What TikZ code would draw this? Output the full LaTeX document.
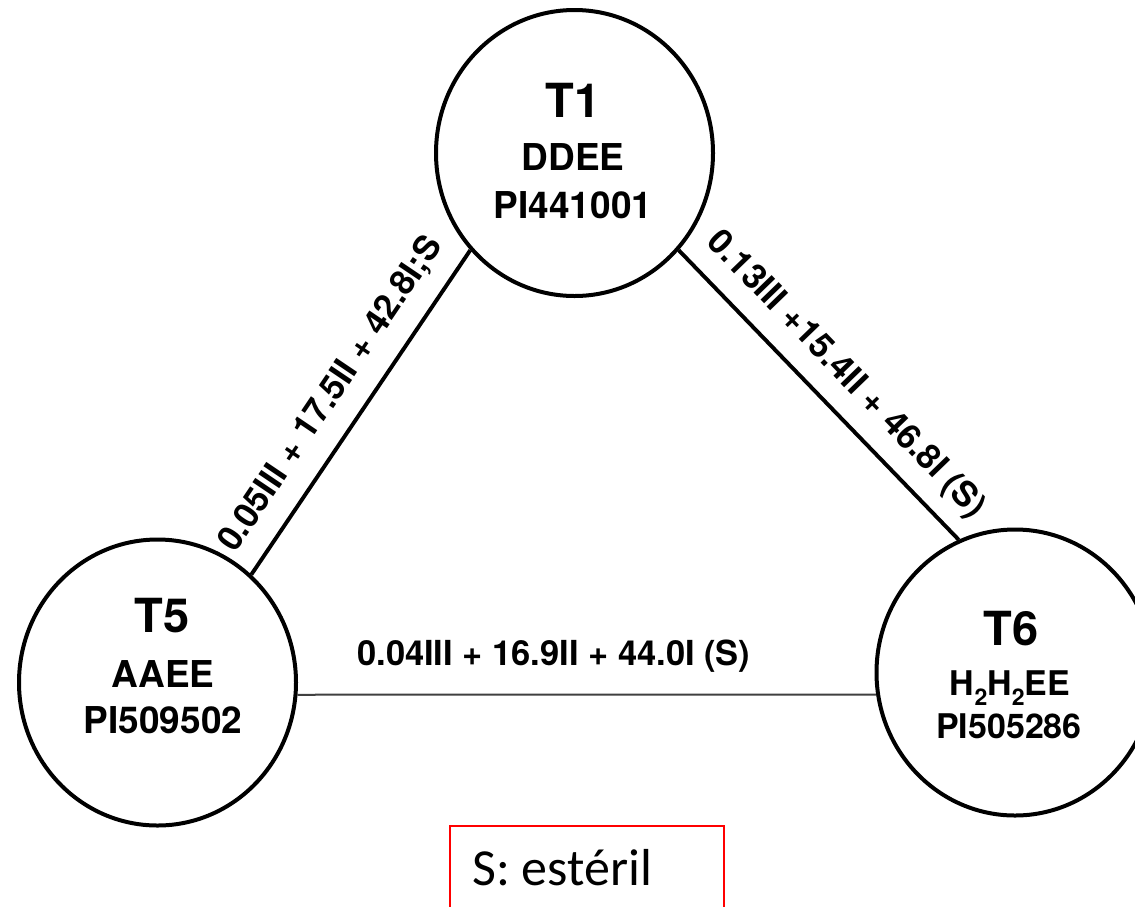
\documentclass[tikz,border=0pt]{standalone}
\usepackage{fontspec}
\setmainfont{TeX Gyre Heros}
\newfontfamily\calfont{Carlito}
\usetikzlibrary{shapes.geometric}
\begin{document}
\begin{tikzpicture}[x=1pt,y=-1pt,
  tnode/.style={ellipse, draw, line width=4pt, minimum width=277pt, minimum height=286pt, inner sep=0pt},
  bigtxt/.style={font=\bfseries\fontsize{47}{47}\selectfont, anchor=base, inner sep=0pt},
  midtxt/.style={font=\bfseries\fontsize{37}{37}\selectfont, anchor=base, inner sep=0pt},
  smalltxt/.style={font=\bfseries\fontsize{34}{34}\selectfont, anchor=base, inner sep=0pt},
  edgeline/.style={line width=3.9pt},
  thinedge/.style={line width=2pt, black!75},
  elabel/.style={font=\bfseries\fontsize{34.5}{34.5}\selectfont, sloped, anchor=base, inner sep=0pt}]
\useasboundingbox (0,0) rectangle (1135,906);
\clip (0,0) rectangle (1135,906);
\fill[white] (0,0) rectangle (1135,906);
% nodes
\node[tnode] (T1) at (574.5,153) {};
\node[tnode] (T5) at (157.5,682.5) {};
\node[tnode] (T6) at (1015,672.5) {};
\node[bigtxt] (T1n) at (573,117) {T1};
\node[midtxt] (T1g) at (573,170) {DDEE};
\node[midtxt] (T1p) at (573,218) {PI441001};
\node[bigtxt] (T5n) at (162,632) {T5};
\node[midtxt] (T5g) at (163,687) {AAEE};
\node[midtxt] (T5p) at (163,733) {PI509502};
\node[bigtxt] (T6n) at (1011,645) {T6};
\node[smalltxt] (T6g) at (1010,695) {H\raisebox{-0.3em}{\fontsize{23}{23}\selectfont 2}H\raisebox{-0.3em}{\fontsize{23}{23}\selectfont 2}EE};
\node[smalltxt] (T6p) at (1009,738) {PI505286};
% edges
\draw[edgeline] (T5.49.2) -- node[elabel, pos=0.496, yshift=25pt] (e51) {0.05III + 17.5II + 42.8I;S} (T1.223.2);
\draw[edgeline] (T1.-43.5) -- node[elabel, pos=0.511, yshift=24pt] (e16) {0.13III +15.4II + 46.8I (S)} (T6.113.9);
\draw[thinedge] (T5.-5) -- node[pos=0.443, anchor=base, yshift=29pt, inner sep=0pt, text=black, font=\bfseries\fontsize{34.5}{34.5}\selectfont] (e56) {0.04III + 16.9II + 44.0I (S)} (T6.189);
% legend
\node[draw=red, line width=2pt, minimum width=274pt, minimum height=120pt, anchor=north west, inner sep=0pt] (legend) at (449,825) {};
\node[anchor=base west, inner sep=0pt, font=\calfont\fontsize{52}{52}\selectfont] (legtext) at (472,885) {S: estéril};
\end{tikzpicture}
\end{document}
